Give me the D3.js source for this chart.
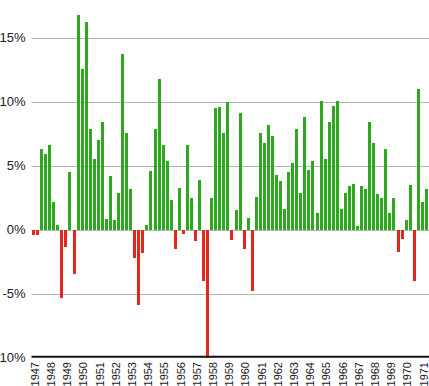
<!DOCTYPE html>
<html>
<head>
<meta charset="utf-8">
<script src="https://cdn.jsdelivr.net/npm/d3@7"></script>
<style>
  html, body { margin: 0; padding: 0; background: #fff; overflow: hidden; }
  svg { display: block; }
</style>
</head>
<body>
<svg id="chart" width="429" height="386"></svg>
<script>
// Quarterly growth (%), first quarter shown is 1947 Q2
const startYear = 1947;
const startQuarter = 2;
const values = [
  -0.4, -0.4, 6.3, 5.9, 6.6, 2.2, 0.35, -5.3, -1.35, 4.5,
  -3.45, 16.8, 12.6, 16.2, 7.9, 5.5, 7.0, 8.4, 0.85, 4.2,
  0.75, 2.85, 13.7, 7.6, 3.2, -2.2, -5.85, -1.8, 0.35, 4.6,
  7.9, 11.8, 6.6, 5.4, 2.35, -1.5, 3.3, -0.35, 6.65, 2.5,
  -0.9, 3.9, -4.0, -10.0, 2.5, 9.5, 9.6, 7.6, 10.0, -0.8,
  1.55, 9.15, -1.5, 0.9, -4.75, 2.6, 7.6, 6.75, 8.2, 7.3,
  4.3, 3.8, 1.6, 4.5, 5.2, 7.9, 2.85, 8.8, 4.7, 5.4,
  1.3, 10.1, 5.5, 8.4, 9.7, 10.1, 1.6, 2.85, 3.4, 3.6,
  0.3, 3.4, 3.2, 8.4, 6.8, 2.8, 2.5, 6.3, 1.3, 2.5,
  -1.7, -0.75, 0.8, 3.5, -4.0, 11.0, 2.2, 3.2
];
const categories = values.map((v, i) => {
  const q = startQuarter - 1 + i;
  return (startYear + Math.floor(q / 4)) + " Q" + (q % 4 + 1);
});
const yTicks = [-10, -5, 0, 5, 10, 15];
const yTickLabels = ["-10%", "-5%", "0%", "5%", "10%", "15%"];
// Year labels placed every 4th bar
const yearLabels = d3.range(1947, 1972).map(String);

const svg = d3.select("#chart");
const left = 31.5, right = 428.4;

const x = d3.scaleBand()
  .domain(categories)
  .range([left, right])
  .paddingInner(0.25)
  .paddingOuter(0.125);

const y = d3.scaleLinear()
  .domain([-10, 15])
  .range([357.8, 37.8]);

// gridlines
svg.append("g")
  .selectAll("line")
  .data(yTicks.filter(t => t !== -10))
  .join("line")
  .attr("x1", left)
  .attr("x2", 429)
  .attr("y1", d => Math.round(y(d)) + 0.5)
  .attr("y2", d => Math.round(y(d)) + 0.5)
  .attr("stroke", "#b4b4b4")
  .attr("stroke-width", 1);

// y labels
svg.append("g")
  .selectAll("text")
  .data(yTicks)
  .join("text")
  .attr("x", 25.5)
  .attr("y", d => y(d))
  .attr("dy", "0.36em")
  .attr("text-anchor", "end")
  .attr("font-family", "Liberation Sans, Arial, sans-serif")
  .attr("font-size", 13)
  .attr("fill", "#1a1a1a")
  .text((d, i) => yTickLabels[i]);

// bars
svg.append("g")
  .attr("shape-rendering", "crispEdges")
  .selectAll("rect")
  .data(values)
  .join("rect")
  .attr("x", (d, i) => x(categories[i]))
  .attr("width", x.bandwidth())
  .attr("y", d => y(Math.max(0, d)))
  .attr("height", d => Math.abs(y(d) - y(0)))
  .attr("fill", d => d >= 0 ? "#2ea81e" : "#e4261b");

// x axis line
svg.append("line")
  .attr("x1", left)
  .attr("x2", 429)
  .attr("y1", y(-10) - 1)
  .attr("y2", y(-10) - 1)
  .attr("stroke", "#111")
  .attr("stroke-width", 2);

// year labels (rotated)
svg.append("g")
  .selectAll("text")
  .data(yearLabels)
  .join("text")
  .attr("transform", (d, i) => {
    const c = categories[i * 4];
    const cx = x(c) + x.bandwidth() / 2 + 1.4;
    return `translate(${cx},362) rotate(-90)`;
  })
  .attr("dy", "0.36em")
  .attr("text-anchor", "end")
  .attr("font-family", "Liberation Sans, Arial, sans-serif")
  .attr("font-size", 11)
  .attr("fill", "#1a1a1a")
  .text(d => d);
</script>
</body>
</html>
